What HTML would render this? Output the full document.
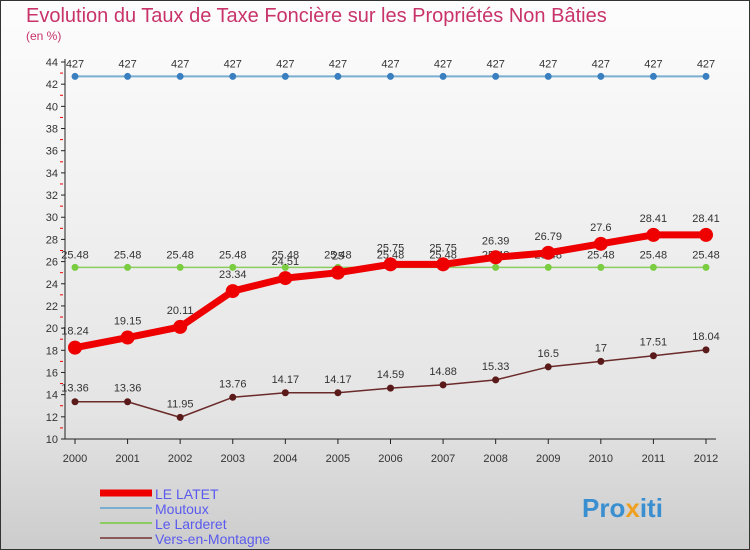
<!DOCTYPE html>
<html><head><meta charset="utf-8"><style>
body{margin:0;width:750px;height:550px;overflow:hidden;font-family:"Liberation Sans",sans-serif}
svg{display:block}
</style></head><body>
<svg id="c" width="750" height="550" xmlns="http://www.w3.org/2000/svg">
<defs><linearGradient id="bg" x1="0" y1="0" x2="0" y2="1"><stop offset="0" stop-color="#fdfdfd"/><stop offset="0.75" stop-color="#e4e4e4"/><stop offset="1" stop-color="#cccccc"/></linearGradient></defs>
<rect x="0.5" y="0.5" width="749" height="549" fill="url(#bg)" stroke="#333"/>
<text x="26" y="22" font-size="20" fill="#c8336a">Evolution du Taux de Taxe Foncière sur les Propriétés Non Bâties</text>
<text x="26" y="40" font-size="12" fill="#c8336a">(en %)</text>
<g id="axes"></g><g id="series"></g><g id="legend"></g>
<text x="582" y="517" font-size="26" font-weight="bold" fill="#3a8fd0">Pro<tspan fill="#f0a020">x</tspan>iti</text>
</svg>
<script>
const years=[2000,2001,2002,2003,2004,2005,2006,2007,2008,2009,2010,2011,2012];
const latet=[18.24,19.15,20.11,23.34,24.51,25,25.75,25.75,26.39,26.79,27.6,28.41,28.41];
const moutoux=[42.7,42.7,42.7,42.7,42.7,42.7,42.7,42.7,42.7,42.7,42.7,42.7,42.7];
const larderet=[25.48,25.48,25.48,25.48,25.48,25.48,25.48,25.48,25.48,25.48,25.48,25.48,25.48];
const vers=[13.36,13.36,11.95,13.76,14.17,14.17,14.59,14.88,15.33,16.5,17,17.51,18.04];
const latetLabels=["18.24","19.15","20.11","23.34","24.51","25","25.75","25.75","26.39","26.79","27.6","28.41","28.41"];
const moutouxLabels=["427","427","427","427","427","427","427","427","427","427","427","427","427"];
const larderetLabels=["25.48","25.48","25.48","25.48","25.48","25.48","25.48","25.48","25.48","25.48","25.48","25.48","25.48"];
const versLabels=["13.36","13.36","11.95","13.76","14.17","14.17","14.59","14.88","15.33","16.5","17","17.51","18.04"];
const yTicks=[10,12,14,16,18,20,22,24,26,28,30,32,34,36,38,40,42,44];
const NS="http://www.w3.org/2000/svg";
const X=i=>75+i*(706-75)/12;
const Y=v=>439-(v-10)*(439-62)/34;
function mk(tag,attrs,parent){const e=document.createElementNS(NS,tag);for(const k in attrs)e.setAttribute(k,attrs[k]);parent.appendChild(e);return e;}
const ax=document.getElementById('axes');
let l=mk('line',{x1:65,y1:Y(44)-3,x2:65,y2:439,stroke:'#222'},ax);


l=mk('line',{x1:65,y1:439,x2:716,y2:439,stroke:'#222'},ax);


yTicks.forEach(v=>{
 mk('line',{x1:61,y1:Y(v),x2:65,y2:Y(v),stroke:'#222'},ax);
 if(v<44){mk('line',{x1:60,y1:Y(v+1),x2:63,y2:Y(v+1),stroke:'#e00'},ax);}
 const t=mk('text',{x:58,y:Y(v)+4,'font-size':11,'text-anchor':'end',fill:'#333'},ax);t.textContent=v;
 
 
});
years.forEach((y,i)=>{
 mk('line',{x1:X(i),y1:439,x2:X(i),y2:444,stroke:'#222'},ax);
 const t=mk('text',{x:X(i),y:462,'font-size':11,'text-anchor':'middle',fill:'#333'},ax);t.textContent=y;
 
 
});
const sg=document.getElementById('series');
function series(vals,labels,color,w,r,dot,name,ly){
 const g=mk('g',{},sg);
 
 
 mk('polyline',{points:vals.map((v,i)=>X(i)+','+Y(v)).join(' '),fill:'none',stroke:color,'stroke-width':w,'stroke-linejoin':'round'},g);
 vals.forEach((v,i)=>{
  const c=mk('circle',{cx:X(i),cy:Y(v),r:r,fill:dot},g);
  
  
  const t=mk('text',{x:X(i),y:Y(v)+ly,'font-size':11,'text-anchor':'middle',fill:'#333'},g);t.textContent=labels[i];
  
  
 });
}
series(moutoux,moutouxLabels,'#7aaed0',2,3.5,'#3a80c0','moutoux-series',-9);
series(larderet,larderetLabels,'#8ccc60',1.5,3.5,'#7acc40','larderet-series',-9);
series(vers,versLabels,'#6b2a2a',1.5,3.5,'#5a1a1a','vers-series',-10);
series(latet,latetLabels,'#ee0000',7,7,'#ee0000','latet-series',-13);
const lg=document.getElementById('legend');
[['LE LATET','#ee0000',7],['Moutoux','#7aaed0',2],['Le Larderet','#8ccc60',2],['Vers-en-Montagne','#8a5a5a',2]].forEach((e,i)=>{
 const y=493+i*15;
 const g=mk('g',{},lg);
 
 
 mk('line',{x1:100,y1:y,x2:152,y2:y,stroke:e[1],'stroke-width':e[2]},g);
 const t=mk('text',{x:155,y:y+6,'font-size':14,fill:'#5a5aee'},g);t.textContent=e[0];
});
</script>
</body></html>
